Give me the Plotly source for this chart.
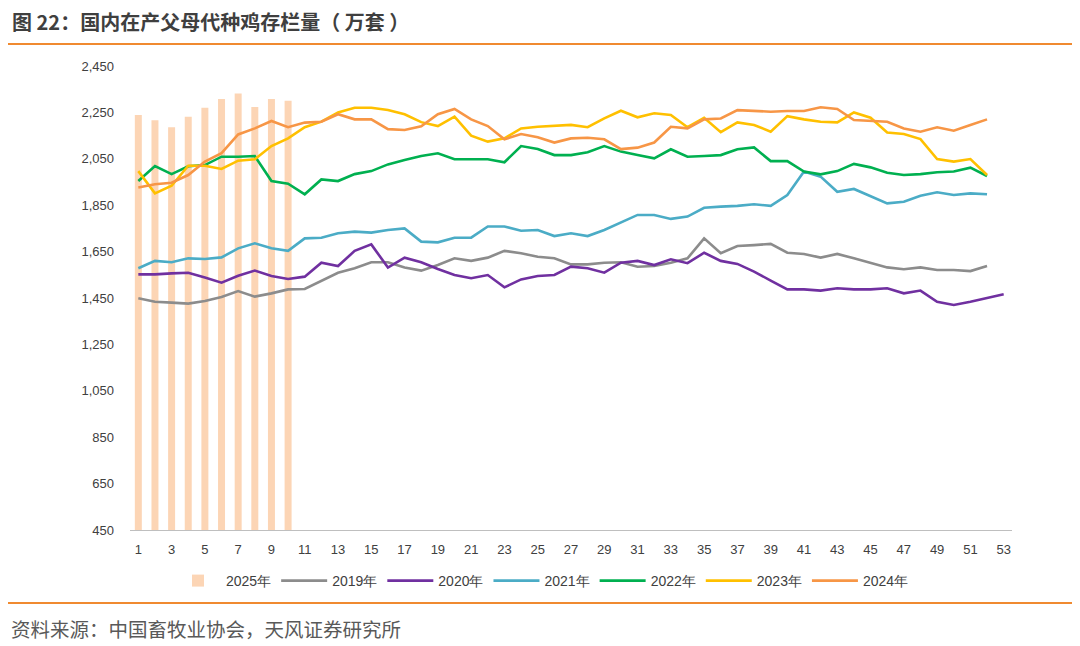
import plotly.graph_objects as go

weeks = list(range(1, 54))
tick_weeks = list(range(1, 54, 2))
y_ticks = list(range(450, 2451, 200))

bars2025 = [2239, 2216, 2186, 2231, 2270, 2308, 2331, 2273, 2308, 2300]

y2019 = [1449, 1434, 1430, 1426, 1437, 1454, 1480, 1456, 1470, 1487, 1489, 1523, 1559, 1578, 1604, 1604, 1581, 1568,
         1592, 1621, 1610, 1624, 1653, 1643, 1628, 1621, 1595, 1595, 1602, 1604, 1585, 1588, 1602, 1621, 1707, 1643,
         1674, 1678, 1683, 1645, 1640, 1624, 1640, 1621, 1600, 1582, 1574, 1582, 1571, 1571, 1566, 1588]
y2020 = [1552, 1552, 1556, 1559, 1538, 1516, 1546, 1568, 1545, 1532, 1542, 1602, 1588, 1653, 1681, 1581, 1624, 1604,
         1575, 1549, 1535, 1549, 1496, 1530, 1545, 1549, 1585, 1578, 1559, 1602, 1610, 1592, 1617, 1600, 1645, 1610,
         1597, 1564, 1525, 1487, 1487, 1482, 1492, 1487, 1487, 1492, 1470, 1482, 1434, 1420, 1434, 1451, 1466]
y2021 = [1578, 1610, 1604, 1621, 1618, 1625, 1664, 1686, 1664, 1653, 1707, 1710, 1729, 1736, 1732, 1743, 1750, 1693,
         1690, 1710, 1710, 1758, 1758, 1740, 1743, 1717, 1729, 1717, 1743, 1776, 1808, 1808, 1791, 1801, 1839, 1844,
         1847, 1854, 1847, 1894, 1995, 1973, 1908, 1920, 1890, 1858, 1865, 1891, 1906, 1894, 1901, 1897]
y2022 = [1954, 2019, 1984, 2018, 2023, 2059, 2059, 2062, 1954, 1943, 1897, 1961, 1954, 1984, 1997, 2026, 2045, 2062,
         2074, 2048, 2048, 2048, 2035, 2105, 2092, 2066, 2066, 2078, 2105, 2081, 2066, 2052, 2091, 2059, 2062, 2066,
         2091, 2099, 2040, 2040, 1995, 1983, 1997, 2028, 2013, 1990, 1980, 1984, 1992, 1995, 2012, 1976]
y2023 = [1997, 1901, 1934, 2020, 2020, 2006, 2042, 2048, 2105, 2138, 2186, 2210, 2250, 2270, 2270, 2260, 2242, 2208,
         2191, 2232, 2150, 2124, 2138, 2181, 2188, 2191, 2196, 2186, 2224, 2257, 2229, 2246, 2239, 2186, 2227, 2165,
         2207, 2196, 2167, 2234, 2220, 2210, 2207, 2250, 2227, 2163, 2157, 2135, 2049, 2038, 2049, 1980]
y2024 = [1926, 1940, 1947, 1980, 2038, 2074, 2155, 2181, 2213, 2186, 2206, 2210, 2242, 2220, 2220, 2178, 2174, 2190,
         2242, 2265, 2220, 2191, 2134, 2157, 2143, 2120, 2138, 2141, 2134, 2092, 2098, 2120, 2188, 2181, 2220, 2224,
         2260, 2257, 2253, 2256, 2256, 2272, 2265, 2217, 2213, 2210, 2181, 2167, 2186, 2171, 2196, 2220]

lines = [
    ("2019年", y2019, "#8C8C8C"),
    ("2020年", y2020, "#7030A0"),
    ("2021年", y2021, "#4BACC6"),
    ("2022年", y2022, "#00B050"),
    ("2023年", y2023, "#FFC000"),
    ("2024年", y2024, "#F79646"),
]

FONT = "Liberation Sans Narrow, Liberation Sans, Arial, sans-serif"
CJK = "Noto Sans CJK SC, sans-serif"

# page has an 8px body margin, so the figure is laid out 8px up/left
W, H = 1072, 638
L, R, T, B = 122, 68, 58, 116
PW = W - L - R
PH = H - T - B

fig = go.Figure()
fig.add_trace(go.Bar(x=weeks[:len(bars2025)], y=bars2025, name="2025年",
                     marker=dict(color="#FCD5B5", line=dict(width=0)), width=0.42))
for name, ys, col in lines:
    fig.add_trace(go.Scatter(x=weeks[:len(ys)], y=ys, name=name, mode="lines",
                             line=dict(color=col, width=2.6)))

fig.update_layout(
    width=W, height=H,
    margin=dict(l=L, r=R, t=T, b=B),
    paper_bgcolor="white", plot_bgcolor="white",
    font=dict(family=FONT, size=13, color="#404040"),
    showlegend=True,
    legend=dict(orientation="h", x=(534 - L) / PW, xanchor="center", y=(PH + T - 573) / PH, yanchor="middle",
                font=dict(family=FONT, size=14, color="#404040"), traceorder="normal",
                itemwidth=46),
    xaxis=dict(range=[0.5, 53.5], tickmode="array", tickvals=tick_weeks,
               ticktext=[str(t) for t in tick_weeks], showgrid=False, zeroline=False,
               showline=True, linecolor="#BFBFBF", linewidth=1, ticks="",
               ticklabelstandoff=7,
               tickfont=dict(family=FONT, size=13, color="#404040")),
    yaxis=dict(range=[450, 2450], tickmode="array", tickvals=y_ticks,
               ticktext=[f"{v:,}" for v in y_ticks], showgrid=False, zeroline=False,
               showline=False, ticks="", ticklabelstandoff=15,
               tickfont=dict(family=FONT, size=13, color="#404040")),
    bargap=0.5,
)

def px(x):
    return (x - L) / PW

def py(y):
    return (T + PH - y) / PH

fig.add_annotation(text="<b>图 22：国内在产父母代种鸡存栏量（ 万套 ）</b>", xref="paper", yref="paper",
                   x=px(2), y=py(14), xanchor="left", yanchor="middle", showarrow=False,
                   font=dict(family=CJK, size=20, color="#3F3F3F"))
fig.add_annotation(text="资料来源：中国畜牧业协会，天风证券研究所", xref="paper", yref="paper",
                   x=px(1), y=py(620), xanchor="left", yanchor="middle", showarrow=False,
                   font=dict(family=CJK, size=19.5, color="#595959"))
fig.add_shape(type="line", xref="paper", yref="paper", x0=px(0), x1=px(W),
              y0=py(36), y1=py(36), line=dict(color="#F08A30", width=2))
fig.add_shape(type="line", xref="paper", yref="paper", x0=px(0), x1=px(W),
              y0=py(595), y1=py(595), line=dict(color="#F08A30", width=2))

fig.write_html("out.html")
